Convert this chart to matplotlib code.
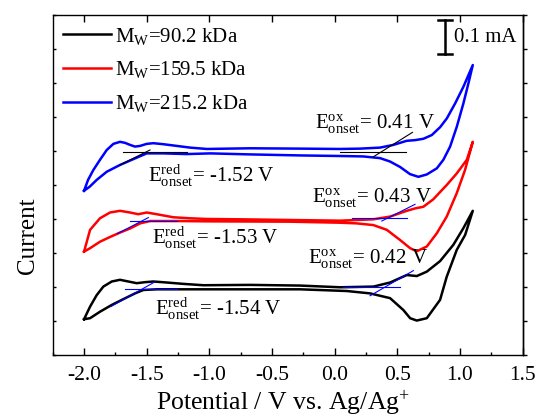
import numpy as np
import matplotlib
matplotlib.use("Agg")
import matplotlib.pyplot as plt
import matplotlib.ticker as ticker

# ==========================================
# Settings
# ==========================================
PLOT_SETTINGS = {
    "fig_size": (5.38, 4.19),
    "dpi": 100,
    "axes_rect": [0.098, 0.153, 0.8735, 0.811],
    "font_size_label": 18.5,
    "font_size_tick": 15.5,
    "font_size_legend": 15,
    "font_size_text": 15,
    "x_lim": (-2.25, 1.5),
    "y_lim": (0.0, 1.0),
}

plt.rcParams["font.family"] = ["Liberation Serif", "DejaVu Serif"]
plt.rcParams["mathtext.fontset"] = "custom"
plt.rcParams["mathtext.rm"] = "Liberation Serif"
plt.rcParams["mathtext.it"] = "Liberation Serif:italic"

# ==========================================
# Data  (potential in V, current in mA with offsets)
# ==========================================
labels = [r"$\mathrm{M_W}$=90.2 kDa", r"$\mathrm{M_W}$=159.5 kDa", r"$\mathrm{M_W}$=215.2 kDa"]
colors = ["black", "#ff0000", "#0000ff"]

# black, Mw = 90.2 kDa
black_v = [-2.00, -1.952, -1.899, -1.846, -1.779, -1.713, -1.647, -1.580, -1.513, -1.447,
           -1.340, -1.208, -1.048, -0.675, -0.276, 0.043, 0.309, 0.442, 0.575, 0.655,
           0.735, 0.841, 0.947, 1.027, 1.102,
           1.041, 0.974, 0.894, 0.841, 0.735, 0.655, 0.602, 0.548, 0.442, 0.282,
           0.096, -0.276, -0.675, -1.048, -1.234, -1.420, -1.527, -1.593, -1.687, -1.779,
           -1.873, -1.952, -2.00]
black_i = [0.105, 0.142, 0.176, 0.201, 0.216, 0.221, 0.216, 0.211, 0.214, 0.216,
           0.213, 0.209, 0.205, 0.206, 0.204, 0.199, 0.201, 0.213, 0.235, 0.232,
           0.245, 0.276, 0.324, 0.373, 0.424,
           0.353, 0.309, 0.230, 0.162, 0.108, 0.101, 0.108, 0.132, 0.167, 0.181,
           0.188, 0.193, 0.193, 0.193, 0.193, 0.193, 0.191, 0.181, 0.164, 0.147,
           0.127, 0.108, 0.105]

# red, Mw = 159.5 kDa
red_v = [-2.00, -1.952, -1.873, -1.793, -1.713, -1.633, -1.567, -1.500, -1.420, -1.288,
         -1.154, -1.021, -0.755, -0.356, 0.043, 0.309, 0.442, 0.575, 0.641, 0.708,
         0.787, 0.894, 0.974, 1.054, 1.102,
         1.040, 0.974, 0.894, 0.815, 0.735, 0.655, 0.602, 0.522, 0.416, 0.309,
         0.176, 0.043, -0.356, -1.021, -1.288, -1.473, -1.553, -1.633, -1.713, -1.793,
         -1.873, -1.952, -2.00]
red_i = [0.304, 0.368, 0.402, 0.419, 0.424, 0.419, 0.414, 0.419, 0.414, 0.405,
         0.402, 0.400, 0.399, 0.397, 0.395, 0.399, 0.407, 0.424, 0.431, 0.436,
         0.458, 0.500, 0.534, 0.574, 0.627,
         0.544, 0.476, 0.407, 0.358, 0.319, 0.305, 0.314, 0.338, 0.368, 0.382,
         0.387, 0.389, 0.392, 0.393, 0.394, 0.394, 0.387, 0.372, 0.360, 0.347,
         0.333, 0.314, 0.304]

# blue, Mw = 215.2 kDa
blue_v = [-2.00, -1.968, -1.926, -1.873, -1.819, -1.766, -1.713, -1.673, -1.633, -1.593,
          -1.553, -1.500, -1.447, -1.367, -1.260, -1.154, -1.021, -0.675, -0.276, 0.043,
          0.203, 0.362, 0.468, 0.575, 0.641, 0.708, 0.775, 0.841, 0.895, 0.961,
          1.027, 1.102,
          1.067, 1.027, 0.974, 0.921, 0.867, 0.815, 0.735, 0.668, 0.601, 0.522,
          0.442, 0.362, 0.229, 0.096, -0.276, -0.675, -0.994, -1.181, -1.367, -1.500,
          -1.607, -1.713, -1.819, -1.899, -1.955, -2.00]
blue_i = [0.483, 0.515, 0.544, 0.574, 0.603, 0.621, 0.627, 0.624, 0.618, 0.613,
          0.615, 0.621, 0.623, 0.620, 0.615, 0.610, 0.606, 0.608, 0.607, 0.606,
          0.607, 0.610, 0.618, 0.630, 0.632, 0.636, 0.647, 0.670, 0.696, 0.740,
          0.789, 0.853,
          0.799, 0.740, 0.671, 0.613, 0.574, 0.549, 0.531, 0.524, 0.532, 0.553,
          0.569, 0.579, 0.584, 0.585, 0.587, 0.590, 0.593, 0.591, 0.593, 0.593,
          0.576, 0.559, 0.539, 0.515, 0.495, 0.483]

# onset tangent lines: (v pair, i pair, colour)
tangents = [
    ([-1.687, -1.181], [0.596, 0.596], "black"),
    ([-1.713, -1.474], [0.559, 0.603], "black"),
    ([0.043, 0.571], [0.598, 0.598], "black"),
    ([0.309, 0.621], [0.583, 0.655], "black"),
    ([-1.633, -1.260], [0.394, 0.394], "#0000ff"),
    ([-1.733, -1.487], [0.357, 0.404], "#0000ff"),
    ([0.136, 0.575], [0.402, 0.402], "#0000ff"),
    ([0.376, 0.641], [0.394, 0.443], "#0000ff"),
    ([-1.673, -1.260], [0.193, 0.193], "#0000ff"),
    ([-1.787, -1.434], [0.142, 0.215], "#0000ff"),
    ([0.069, 0.522], [0.200, 0.200], "#0000ff"),
    ([0.282, 0.628], [0.174, 0.248], "#0000ff"),
]

# onset annotations: (v, i, text)
onset_texts = [
    (-0.157, 0.668, r"$\mathrm{E^{ox}_{onset}}$= 0.41 V"),
    (-1.487, 0.510, r"$\mathrm{E^{red}_{onset}}$= -1.52 V"),
    (-0.183, 0.451, r"$\mathrm{E^{ox}_{onset}}$= 0.43 V"),
    (-1.460, 0.328, r"$\mathrm{E^{red}_{onset}}$= -1.53 V"),
    (-0.210, 0.270, r"$\mathrm{E^{ox}_{onset}}$= 0.42 V"),
    (-1.434, 0.118, r"$\mathrm{E^{red}_{onset}}$= -1.54 V"),
]

scale_bar_v = 0.881
scale_bar_i = (0.885, 0.985)


def main():
    fig = plt.figure(figsize=PLOT_SETTINGS["fig_size"], dpi=PLOT_SETTINGS["dpi"])
    ax = fig.add_axes(PLOT_SETTINGS["axes_rect"])

    curves = [(black_v, black_i), (red_v, red_i), (blue_v, blue_i)]
    for (v, i), lab, c in zip(curves, labels, colors):
        ax.plot(v, i, color=c, lw=1.8, label=lab, solid_joinstyle="round")

    for v, i, c in tangents:
        ax.plot(v, i, color=c, lw=0.8)

    for v, i, s in onset_texts:
        ax.text(v, i, s, fontsize=PLOT_SETTINGS["font_size_text"], va="baseline", ha="left")

    # scale bar 0.1 mA
    ax.plot([scale_bar_v, scale_bar_v], scale_bar_i, color="black", lw=1.8)
    for yy in scale_bar_i:
        ax.plot([scale_bar_v - 0.055, scale_bar_v + 0.055], [yy, yy], color="black", lw=1.8)
    ax.text(scale_bar_v + 0.075, np.mean(scale_bar_i), "0.1 mA",
            fontsize=PLOT_SETTINGS["font_size_text"], va="center", ha="left")

    ax.set_xlim(*PLOT_SETTINGS["x_lim"])
    ax.set_ylim(*PLOT_SETTINGS["y_lim"])
    ax.xaxis.set_major_locator(ticker.MultipleLocator(0.5))
    ax.xaxis.set_minor_locator(ticker.MultipleLocator(0.25))
    ax.xaxis.set_major_formatter(ticker.FormatStrFormatter("%.1f"))
    ax.yaxis.set_major_locator(ticker.MultipleLocator(0.1))
    ax.tick_params(axis="x", which="major", direction="in", length=5, width=1,
                   top=True, labelsize=PLOT_SETTINGS["font_size_tick"], pad=8)
    ax.tick_params(axis="x", which="minor", direction="in", length=2.5, width=1, top=False)
    ax.tick_params(axis="y", which="major", direction="in", length=2.5, width=1,
                   labelleft=False)
    sec = ax.secondary_yaxis("right")
    sec.yaxis.set_major_locator(ticker.MultipleLocator(0.1))
    sec.tick_params(direction="out", length=3, width=1, labelright=False)
    for sp in list(ax.spines.values()) + [sec.spines["right"]]:
        sp.set_linewidth(1.0)

    ax.set_xlabel(r"Potential / V vs. Ag/Ag$^{+}$", fontsize=PLOT_SETTINGS["font_size_label"])
    ax.xaxis.set_label_coords(0.491, -0.1)
    ax.set_ylabel("Current", fontsize=18)
    ax.yaxis.set_label_coords(-0.03, 0.35)

    ax.legend(loc="upper left", bbox_to_anchor=(0.0, 1.0), frameon=False,
              fontsize=PLOT_SETTINGS["font_size_legend"], handlelength=2.3,
              handletextpad=0.2, labelspacing=0.62, borderaxespad=0.25, borderpad=0.25)

    fig.savefig("out.png", dpi=PLOT_SETTINGS["dpi"])
    plt.close(fig)


if __name__ == "__main__":
    main()
